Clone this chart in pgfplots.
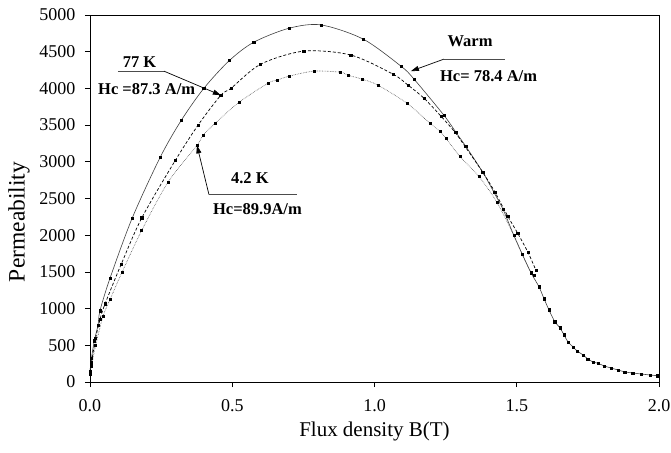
\documentclass[border=0pt]{standalone}
\usepackage{fontspec}
\setmainfont{Liberation Serif}
\usepackage{pgfplots}
\pgfplotsset{compat=1.18}
\usetikzlibrary{arrows.meta}

\begin{document}
\begin{tikzpicture}
\begin{axis}[
 at={(0pt,0pt)}, anchor=south west,
 scale only axis, width=569pt, height=367pt,
 xmin=0, xmax=2, ymin=0, ymax=5000,
 xtick={0,0.5,1,1.5,2}, ytick={0,500,...,5000},
 xticklabels={0.0,0.5,1.0,1.5,2.0},
 scaled ticks=false,
 /pgf/number format/assume math mode=true,
 yticklabel style={/pgf/number format/1000 sep={}, xshift=-6pt},
 xticklabel style={yshift=-9pt},
 tick align=outside, tick pos=left, major tick length=5pt,
 tick style={black, line width=0.8pt},
 axis line style={line width=0.9pt},
 ticklabel style={font=\fontsize{18}{18}\selectfont},
 xlabel={Flux density B(T)}, ylabel={Permeability},
 xlabel style={font=\fontsize{21}{21}\selectfont, at={([yshift=-49pt]axis description cs:0.5,0)}, anchor=center},
 ylabel style={font=\fontsize{23.5}{23.5}\selectfont, at={([xshift=-71pt]axis description cs:0,0.436)}, anchor=center},
 clip=false,
]
% Warm
\addplot[black!75, line width=0.6pt, smooth, tension=0.5, mark=square*, mark size=1.1pt, mark options={solid, black}] coordinates {
(0.0,150) (0.005,320) (0.015,560) (0.028,770) (0.035,970) (0.070,1410) (0.148,2230)
(0.246,3056) (0.32,3560) (0.40,4000) (0.49,4380) (0.576,4630) (0.70,4820) (0.812,4865) (0.96,4672) (1.093,4303) (1.139,4126)
(1.244,3634) (1.286,3402) (1.321,3210) (1.381,2855) (1.42,2582) (1.452,2350)
(1.49,1995) (1.52,1735) (1.55,1489) (1.578,1298) (1.596,1134) (1.613,984)
(1.634,820) (1.652,738) (1.666,642) (1.68,546) (1.698,478) (1.712,423)
(1.733,369) (1.75,314) (1.768,273) (1.786,255) (1.807,219) (1.831,191)
(1.856,164) (1.88,137) (1.908,123) (1.937,109) (1.968,96) (1.995,85)
};
% 77 K
\addplot[black, line width=0.7pt, densely dashed, smooth, tension=0.5, mark=square*, mark size=1.1pt, mark options={solid, black}] coordinates {
(0.0,130) (0.005,260) (0.02,600) (0.035,850) (0.053,1066) (0.109,1598) (0.182,2236)
(0.30,3020) (0.38,3500) (0.46,3907) (0.496,4003) (0.60,4330) (0.752,4508) (0.917,4454)
(1.065,4194) (1.118,4044) (1.174,3866) (1.234,3620) (1.283,3402) (1.318,3210)
(1.381,2855) (1.424,2582) (1.469,2254) (1.504,2022) (1.54,1762) (1.568,1516)
};
% 4.2 K
\addplot[black!70, line width=0.6pt, densely dotted, smooth, tension=0.5, mark=square*, mark size=1.0pt, mark options={solid, black}] coordinates {
(0.0,110) (0.005,210) (0.02,500) (0.046,900) (0.070,1120) (0.112,1490) (0.182,2067)
(0.274,2720) (0.376,3224) (0.397,3361) (0.44,3525) (0.524,3811) (0.626,4071)
(0.657,4112) (0.70,4167) (0.787,4235) (0.879,4221) (0.907,4180) (0.956,4126)
(1.012,4044) (1.114,3798) (1.195,3525) (1.23,3415) (1.251,3320) (1.30,3074)
(1.367,2800) (1.43,2450) (1.49,1995) (1.52,1735) (1.55,1489) (1.56,1450)
};
% annotations
\tikzset{lab/.style={font=\bfseries\fontsize{16.5}{16.5}\selectfont, inner sep=0pt},
 arr/.style={-{Triangle[length=8pt,width=5pt]}, black, line width=0.7pt}}
\node[lab] at (axis cs:1.336,4645) {Warm};
\draw[black!70, line width=0.6pt] (axis cs:1.244,4399) -- (axis cs:1.459,4399);
\draw[arr] (axis cs:1.244,4399) -- (axis cs:1.128,4235);
\node[lab, anchor=west] at (axis cs:1.230,4167) {Hc= 78.4 A/m};

\node[lab] at (axis cs:0.174,4358) {77 K};
\draw[black!70, line width=0.6pt] (axis cs:0.098,4235) -- (axis cs:0.260,4235);
\draw[arr] (axis cs:0.260,4235) -- (axis cs:0.460,3907);
\node[lab, anchor=west] at (axis cs:0.028,3989) {Hc =87.3 A/m};

\node[lab] at (axis cs:0.562,2773) {4.2 K};
\draw[black!70, line width=0.6pt] (axis cs:0.418,2555) -- (axis cs:0.728,2555);
\draw[arr] (axis cs:0.418,2555) -- (axis cs:0.376,3224);
\node[lab, anchor=west] at (axis cs:0.432,2350) {Hc=89.9A/m};
\end{axis}
\pgfresetboundingbox
\path[use as bounding box] (-90pt,-70pt) rectangle (581pt,382pt);
\end{tikzpicture}
\end{document}
